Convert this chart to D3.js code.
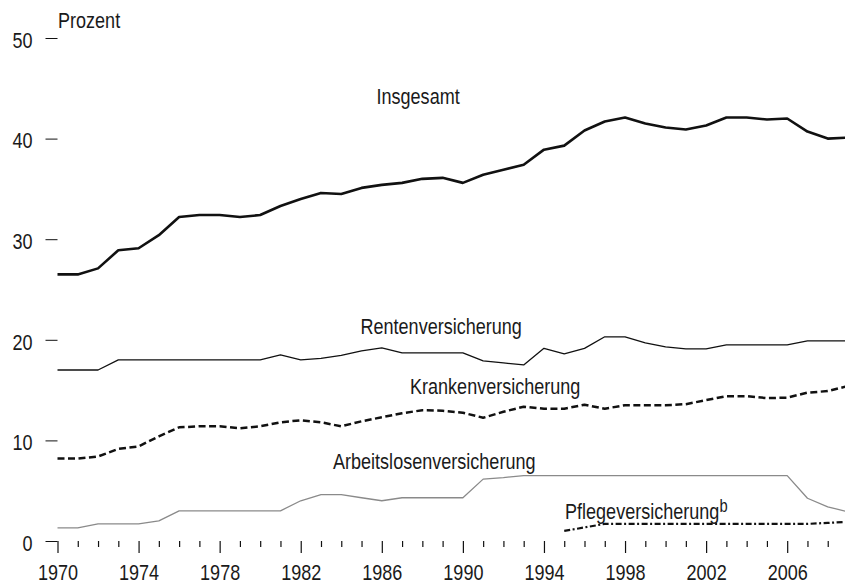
<!DOCTYPE html>
<html>
<head>
<meta charset="utf-8">
<script src="https://cdn.jsdelivr.net/npm/d3@7"></script>
<style>
  body { margin: 0; background: #fff; }
  svg text { font-family: "Liberation Sans Narrow", "Arial Narrow", "Liberation Sans", Arial, sans-serif; fill: #1a1a1a; }
</style>
</head>
<body>
<div id="chart"></div>
<script>
// size
var chart_width = 845;
var chart_height = 584;
var squeeze = 0.82; // no narrow font installed, so squeeze the regular one

// data (Prozent)
var years = d3.range(1970, 2010);

var insgesamt = [26.5, 26.5, 27.1, 28.9, 29.1, 30.4, 32.2, 32.4, 32.4, 32.2,
                 32.4, 33.3, 34.0, 34.6, 34.5, 35.1, 35.4, 35.6, 36.0, 36.1,
                 35.6, 36.4, 36.9, 37.4, 38.9, 39.3, 40.8, 41.7, 42.1, 41.5,
                 41.1, 40.9, 41.3, 42.1, 42.1, 41.9, 42.0, 40.7, 40.0, 40.1];

var renten = [17.0, 17.0, 17.0, 18.0, 18.0, 18.0, 18.0, 18.0, 18.0, 18.0,
              18.0, 18.5, 18.0, 18.15, 18.45, 18.9, 19.2, 18.7, 18.7, 18.7,
              18.7, 17.9, 17.7, 17.5, 19.15, 18.6, 19.15, 20.3, 20.3, 19.7,
              19.3, 19.1, 19.1, 19.5, 19.5, 19.5, 19.5, 19.9, 19.9, 19.9];

var kranken = [8.2, 8.2, 8.4, 9.15, 9.4, 10.4, 11.3, 11.4, 11.4, 11.2,
               11.4, 11.8, 12.0, 11.8, 11.4, 11.9, 12.3, 12.7, 13.0, 12.95,
               12.75, 12.25, 12.85, 13.35, 13.15, 13.15, 13.55, 13.15, 13.5, 13.5,
               13.5, 13.6, 14.0, 14.4, 14.4, 14.2, 14.25, 14.75, 14.9, 15.4];

var arbeitslosen = [1.3, 1.3, 1.7, 1.7, 1.7, 2.0, 3.0, 3.0, 3.0, 3.0,
                    3.0, 3.0, 4.0, 4.6, 4.6, 4.3, 4.0, 4.3, 4.3, 4.3,
                    4.3, 6.15, 6.3, 6.5, 6.5, 6.5, 6.5, 6.5, 6.5, 6.5,
                    6.5, 6.5, 6.5, 6.5, 6.5, 6.5, 6.5, 4.25, 3.4, 2.9];

// Pflegeversicherung starts 1995
var pflege_years = d3.range(1995, 2010);
var pflege = [1.0, 1.35, 1.7, 1.7, 1.7, 1.7, 1.7, 1.7, 1.7, 1.7, 1.7, 1.7, 1.7, 1.8, 1.9];

var y_ticks = [0, 10, 20, 30, 40, 50];
var x_labels = [1970, 1974, 1978, 1982, 1986, 1990, 1994, 1998, 2002, 2006];

// scales
var x = d3.scaleLinear().domain([1970, 2009]).range([57.5, 848]);
var y = d3.scaleLinear().domain([0, 50]).range([541, 38]);

var svg = d3.select("#chart")
            .append("svg")
            .attr("width", chart_width)
            .attr("height", chart_height);

// y axis: short ticks, no domain line
var y_axis = svg.append("g")
    .attr("transform", "translate(57.5,0)")
    .call(d3.axisLeft(y).tickValues(y_ticks).tickSize(12).tickPadding(13));
y_axis.select(".domain").remove();
y_axis.selectAll("line").attr("stroke", "#111").attr("stroke-width", 1);
y_axis.selectAll("text")
    .attr("font-size", 22)
    .attr("x", -25 / squeeze)
    .attr("dy", "0.42em")
    .attr("transform", "scale(" + squeeze + ",1)")
    .style("font-family", null);

// x axis: major ticks every 4 years, minor in between
var x_axis = svg.append("g")
    .attr("transform", "translate(0,541)")
    .call(d3.axisBottom(x).tickValues(years).tickSize(12)
        .tickFormat(function(d){ return x_labels.indexOf(d) >= 0 ? d : ""; }));
x_axis.select(".domain").remove();
x_axis.selectAll("line")
    .attr("stroke", "#111")
    .attr("stroke-width", 1.2)
    .attr("y2", function(d){ return x_labels.indexOf(d) >= 0 ? 12 : 6; });
x_axis.selectAll("text")
    .attr("font-size", 22)
    .attr("y", 39)
    .attr("dy", null)
    .attr("transform", "scale(" + squeeze + ",1)")
    .style("font-family", null);

// lines
function draw_line(xs, values, stroke, width, dash){
    var line = d3.line()
        .x(function(d, i){ return x(xs[i]); })
        .y(function(d){ return y(d); });
    svg.append("path")
        .datum(values)
        .attr("d", line)
        .attr("fill", "none")
        .attr("stroke", stroke)
        .attr("stroke-width", width)
        .attr("stroke-linejoin", "round")
        .attr("stroke-dasharray", dash);
}

draw_line(years, arbeitslosen, "#8a8a8a", 1.3, null);
draw_line(pflege_years, pflege, "#111", 2.2, "6,2.5,2,2.5");
draw_line(years, kranken, "#111", 2.5, "7,3.5");
draw_line(years, renten, "#111", 1.3, null);
draw_line(years, insgesamt, "#111", 2.6, null);

// labels
function label(txt, lx, ly){
    return svg.append("text")
        .attr("transform", "translate(" + lx + "," + ly + ") scale(" + squeeze + ",1)")
        .attr("font-size", 22)
        .text(txt);
}

label("Prozent", 58, 28);
label("Insgesamt", 376.5, 104);
label("Rentenversicherung", 360.5, 333.5);
label("Krankenversicherung", 410, 393.5);
label("Arbeitslosenversicherung", 333, 468.5);
label("Pflegeversicherung", 565, 518.5)
    .append("tspan")
    .attr("font-size", 18)
    .attr("dy", -7)
    .text("b");
</script>
</body>
</html>
